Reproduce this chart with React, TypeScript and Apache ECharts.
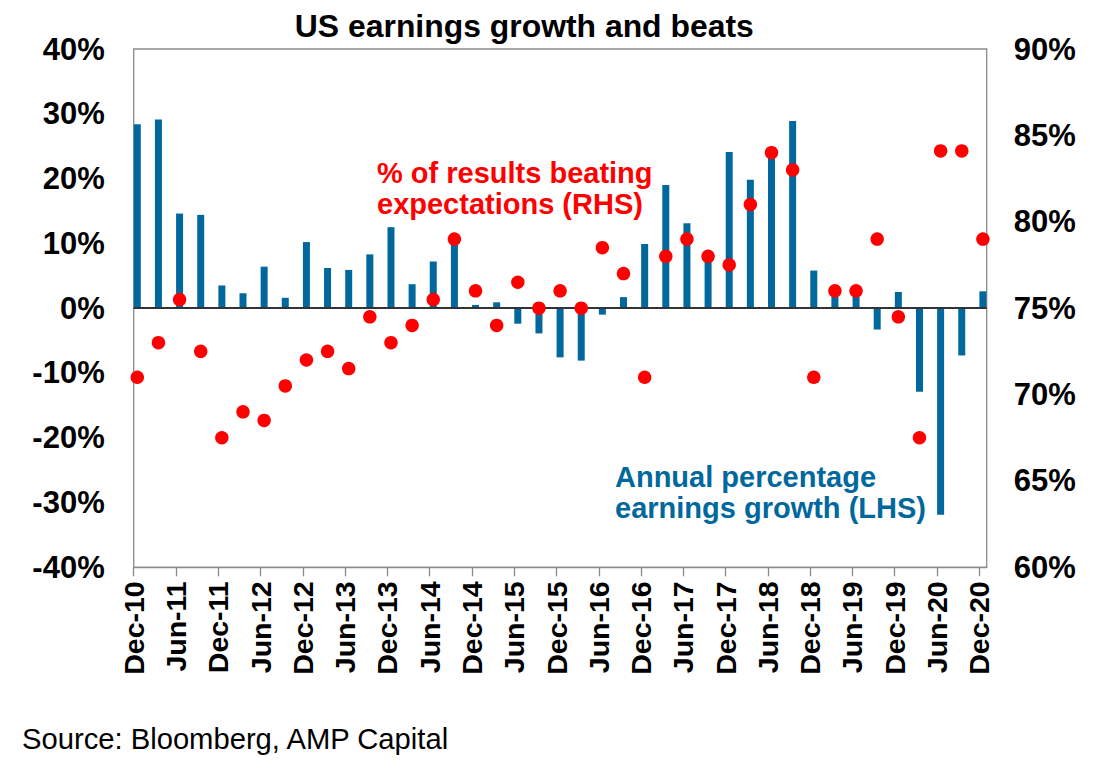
import React, { useEffect, useRef } from "react";
import * as echarts from "echarts";

// Quarterly categories (Dec-10 .. Dec-20)
const quarters = [
  "Dec-10", "Mar-11", "Jun-11", "Sep-11", "Dec-11", "Mar-12", "Jun-12", "Sep-12",
  "Dec-12", "Mar-13", "Jun-13", "Sep-13", "Dec-13", "Mar-14", "Jun-14", "Sep-14",
  "Dec-14", "Mar-15", "Jun-15", "Sep-15", "Dec-15", "Mar-16", "Jun-16", "Sep-16",
  "Dec-16", "Mar-17", "Jun-17", "Sep-17", "Dec-17", "Mar-18", "Jun-18", "Sep-18",
  "Dec-18", "Mar-19", "Jun-19", "Sep-19", "Dec-19", "Mar-20", "Jun-20", "Sep-20",
  "Dec-20",
];

// Tick labels (every second quarter)
const tickLabels = [
  "Dec-10", "Jun-11", "Dec-11", "Jun-12", "Dec-12", "Jun-13", "Dec-13", "Jun-14",
  "Dec-14", "Jun-15", "Dec-15", "Jun-16", "Dec-16", "Jun-17", "Dec-17", "Jun-18",
  "Dec-18", "Jun-19", "Dec-19", "Jun-20", "Dec-20",
];

// Annual percentage earnings growth (LHS, %)
const earningsGrowth = [
  28.4, 29.1, 14.6, 14.4, 3.5, 2.3, 6.4, 1.6, 10.2, 6.2, 5.9, 8.3, 12.5, 3.7,
  7.2, 10.3, 0.5, 0.9, -2.4, -3.9, -7.6, -8.1, -1.0, 1.7, 9.9, 19.0, 13.1, 7.6,
  24.1, 19.8, 23.8, 28.9, 5.8, 2.4, 2.0, -3.3, 2.5, -12.9, -31.9, -7.3, 2.6,
];

// % of results beating expectations (RHS, %)
const beatsPct = [
  71.0, 73.0, 75.5, 72.5, 67.5, 69.0, 68.5, 70.5, 72.0, 72.5, 71.5, 74.5, 73.0,
  74.0, 75.5, 79.0, 76.0, 74.0, 76.5, 75.0, 76.0, 75.0, 78.5, 77.0, 71.0, 78.0,
  79.0, 78.0, 77.5, 81.0, 84.0, 83.0, 71.0, 76.0, 76.0, 79.0, 74.5, 67.5, 84.1,
  84.1, 79.0,
];

const leftTicks = { min: -40, max: 40, step: 10 };
const rightTicks = { min: 60, max: 90, step: 5 };

const FONT = "'Liberation Sans', Arial, Helvetica, sans-serif";
const BLUE = "#00689D";
const RED = "#FF0000";
const GREY = "#8a8a8a";

export default function App() {
  const ref = useRef<HTMLDivElement>(null);

  useEffect(() => {
    if (!ref.current) return;
    const chart = echarts.init(ref.current, null, { renderer: "svg" });
    const xOffset = 0.17;
    const barData = quarters.map((_, i) => [i + xOffset, earningsGrowth[i]]);
    const dotData = quarters.map((_, i) => [i + xOffset, beatsPct[i]]);
    const tickValues = tickLabels.map((_, k) => k * 2);

    const txt = (
      text: string,
      x: number,
      y: number,
      size: number,
      weight: string,
      fill: string,
      align: string
    ) => ({
      type: "text",
      x,
      y,
      silent: true,
      style: {
        text,
        fill,
        fontSize: size,
        fontWeight: weight,
        fontFamily: FONT,
        align,
        verticalAlign: "middle",
        textAlign: align,
        textVerticalAlign: "middle",
      },
    });

    chart.setOption({
      animation: false,
      backgroundColor: "#ffffff",
      grid: {
        left: 133.7,
        right: 121.3,
        top: 49,
        bottom: 208.7,
        show: true,
        borderColor: GREY,
        borderWidth: 1.3,
        backgroundColor: "transparent",
      },
      xAxis: {
        type: "value",
        min: 0,
        max: 40.35,
        interval: 2,
        splitLine: { show: false },
        axisLine: { show: true, onZero: false, lineStyle: { color: GREY, width: 1.3 } },
        axisTick: {
          show: true,
          inside: false,
          length: 9,
          customValues: tickValues,
          lineStyle: { color: GREY, width: 1.3 },
        },
        axisLabel: {
          customValues: tickValues,
          rotate: 90,
          margin: 14,
          fontSize: 28.5,
          fontWeight: "bold",
          fontFamily: FONT,
          color: "#000",
          formatter: (v: number) => tickLabels[Math.round(v / 2)] ?? "",
        },
      },
      yAxis: [
        {
          type: "value",
          position: "left",
          min: leftTicks.min,
          max: leftTicks.max,
          interval: leftTicks.step,
          axisLine: { show: false },
          axisTick: { show: false },
          splitLine: { show: false },
          axisLabel: {
            formatter: "{value}%",
            margin: 29,
            fontSize: 31,
            fontWeight: "bold",
            fontFamily: FONT,
            color: "#000",
          },
        },
        {
          type: "value",
          position: "right",
          min: rightTicks.min,
          max: rightTicks.max,
          interval: rightTicks.step,
          axisLine: { show: false },
          axisTick: { show: false },
          splitLine: { show: false },
          axisLabel: {
            formatter: "{value}%",
            margin: 27,
            fontSize: 31,
            fontWeight: "bold",
            fontFamily: FONT,
            color: "#000",
          },
        },
      ],
      series: [
        {
          type: "bar",
          name: "Annual percentage earnings growth (LHS)",
          data: barData,
          barWidth: 7,
          itemStyle: { color: BLUE },
          z: 2,
          markLine: {
            silent: true,
            symbol: ["none", "none"],
            label: { show: false },
            lineStyle: { color: "#333333", width: 2, type: "solid" },
            data: [{ yAxis: 0 }],
          },
        },
        {
          type: "scatter",
          name: "% of results beating expectations (RHS)",
          yAxisIndex: 1,
          data: dotData,
          symbol: "circle",
          symbolSize: 13.5,
          itemStyle: { color: RED, opacity: 1 },
          z: 10,
        },
      ],
      graphic: [
        txt("US earnings growth and beats", 524.3, 26, 31.9, "bold", "#000", "center"),
        txt("% of results beating", 377, 173, 29, "bold", RED, "left"),
        txt("expectations (RHS)", 377, 204, 29, "bold", RED, "left"),
        txt("Annual percentage", 615, 477, 29, "bold", BLUE, "left"),
        txt("earnings growth (LHS)", 615, 508, 29, "bold", BLUE, "left"),
        txt("Source: Bloomberg, AMP Capital", 22, 738.5, 29.2, "normal", "#000", "left"),
      ],
    });

    return () => chart.dispose();
  }, []);

  return (
    <div
      ref={ref}
      style={{ position: "fixed", left: 0, top: 0, width: 1108, height: 776, background: "#fff" }}
    />
  );
}
